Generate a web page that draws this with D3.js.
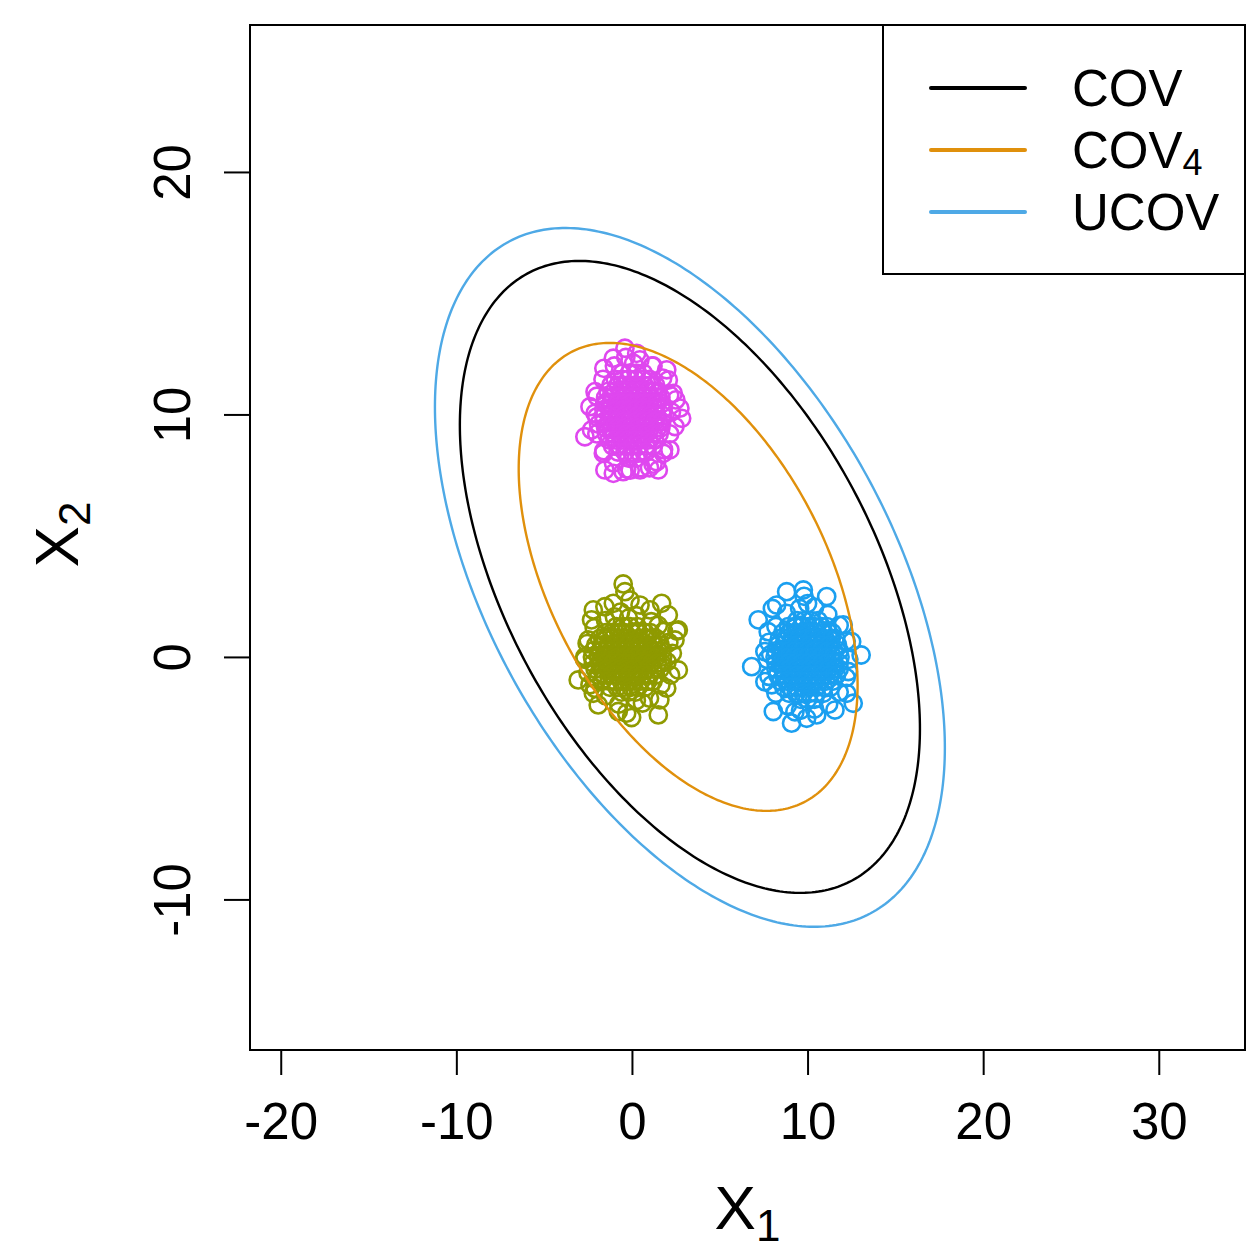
<!DOCTYPE html>
<html lang="en">
<head>
<meta charset="utf-8" />
<script src="https://d3js.org/d3.v7.min.js" charset="utf-8"></script>
<style>
  body { margin: 0; background: #fff; }
  text { font-family: "Liberation Sans", Arial, Helvetica, sans-serif; fill: #000; }
</style>
</head>
<body>
<script>
// axis ticks
var xTicks = [-20, -10, 0, 10, 20, 30];
var yTicks = [-10, 0, 10, 20];

// cluster colours: around (0,0), (0,10), (10,0)
var clusterColors = ["#8f9a00", "#df47ef", "#1a9ff0"];

// scattered points at the edge of each cluster, [x1, x2]
var greenOuter = [[-0.5,3.01],[-0.4,2.69],[1.69,2.21],[-0.11,2.35],[-2.2,1.94],[-1.54,2.07],[-1.06,2.21],
  [2.07,1.73],[2.64,1.11],[2.45,0.7],[2.64,-0.54],[-3.06,-0.95],[-2.39,-1.15],[-2.2,-1.5],[-1.92,-1.98],
  [1.5,-2.39],[-0.3,-2.32],[-0.02,-2.5],[-0.78,-2.25],[1.59,-1.77],[1.98,-1.29],[-2.49,0.7],[-2.68,0.01],
  [-2.3,1.53],[1.03,1.94],[0.46,2.14],[2.56,1.07]];
var magentaOuter = [[-0.4,12.73],[0.27,12.52],[-1.06,12.32],[1.98,11.84],[2.07,11.42],[-2.1,10.94],[2.35,10.87],
  [2.73,10.26],[2.83,9.84],[-2.39,10.32],[-2.68,9.08],[-2.3,9.36],[2.45,9.5],[2.16,8.54],[1.79,8.4],
  [-1.63,8.4],[-1.54,7.71],[-1.06,7.57],[-0.5,7.64],[0.46,7.71],[1.5,7.71],[1.41,8.05],[-1.6,11.9],
  [1.2,12.0],[-2.0,9.9],[2.5,10.6],[-0.1,7.7],[1.0,7.8]];
var blueOuter = [[8.81,2.69],[9.76,2.76],[9.8,2.5],[11.09,2.49],[8.24,2.14],[7.19,1.53],[12.03,1.32],[13.05,0.08],
  [6.82,-0.4],[7.57,-1.02],[7.96,-1.15],[12.6,-1.91],[8.05,-2.25],[9.09,-2.73],[9.95,-2.53],[11.56,-2.19],
  [12.23,-1.5],[12.32,-0.6],[12.51,0.63],[7.57,0.22],[7.76,1.04],[10.52,-2.39],[9.28,-2.26],[8.0,2.0]];

// rings of overlapping points just outside each core
var greenMid = [[2.3,0.15],[2.1,0.6],[1.8,1.05],[1.1,1.45],[0.25,1.7],[-0.65,1.85],[-1.5,1.5],[-2.15,1.2],
  [-2.55,0.55],[-2.7,-0.1],[-2.5,-0.65],[-2.1,-1.3],[-1.5,-1.6],[-0.75,-1.95],[0.25,-1.8],[1.0,-1.7],
  [1.65,-1.15],[2.2,-0.75],[1.5,1.3],[-1.0,1.65],[-2.0,-0.95],[0.6,-1.9],[-0.2,1.6],[2.0,-0.2]];
var magentaMid = [[2.25,10.1],[2.15,10.8],[1.75,11.5],[1.15,12.0],[0.45,12.25],[-0.35,12.35],[-1.0,12.0],
  [-1.65,11.45],[-2.0,10.75],[-2.1,10.05],[-2.0,9.2],[-1.6,8.5],[-1.05,8.0],[-0.3,7.75],[0.5,7.8],
  [1.2,7.95],[1.8,8.55],[2.15,9.2],[0.1,12.1],[-1.9,9.6]];
var blueMid = [[12.35,-0.1],[12.2,0.65],[11.8,1.3],[11.15,1.75],[10.4,2.05],[9.55,2.0],[8.8,1.8],[8.2,1.25],
  [7.8,0.6],[7.7,-0.1],[7.8,-0.8],[8.2,-1.5],[8.85,-2.0],[9.6,-2.2],[10.4,-2.15],[11.2,-1.95],
  [11.8,-1.45],[12.2,-0.85],[10.0,2.2],[7.9,0.1]];

// dense cores, rows of [x2, [x1 values]]
var greenCore = [
  [1.25, [-0.9,-0.5,-0.1,0.3]],
  [1.0, [-1.5,-1.15,-0.75,-0.4,0.0,0.35,0.75,1.05]],
  [0.75, [-1.85,-1.5,-1.1,-0.75,-0.35,0.0,0.4,0.75,1.1,1.4]],
  [0.5, [-2.05,-1.7,-1.35,-0.95,-0.6,-0.2,0.15,0.5,0.9,1.25,1.6]],
  [0.25, [-2.2,-1.8,-1.45,-1.1,-0.7,-0.35,0.05,0.4,0.75,1.15,1.5,1.7]],
  [0.0, [-2.25,-1.9,-1.5,-1.15,-0.8,-0.4,-0.05,0.3,0.7,1.05,1.4,1.75]],
  [-0.25, [-2.2,-1.85,-1.45,-1.1,-0.75,-0.35,0.0,0.4,0.75,1.1,1.45,1.7]],
  [-0.5, [-2.1,-1.75,-1.4,-1.0,-0.65,-0.3,0.1,0.45,0.85,1.2,1.6]],
  [-0.75, [-1.95,-1.6,-1.2,-0.85,-0.5,-0.1,0.25,0.6,1.0,1.35]],
  [-1.0, [-1.7,-1.3,-0.95,-0.6,-0.2,0.15,0.5,0.9,1.2]],
  [-1.25, [-1.25,-0.85,-0.45,-0.05,0.35,0.75]],
  [-1.45, [-0.6,-0.2,0.2]]
];
var magentaCore = [
  [11.7, [-0.55,-0.15,0.25,0.65]],
  [11.45, [-0.95,-0.55,-0.2,0.2,0.6,1.0]],
  [11.2, [-1.2,-0.8,-0.45,-0.05,0.3,0.7,1.05,1.35]],
  [10.95, [-1.35,-1.0,-0.6,-0.25,0.15,0.5,0.9,1.25,1.5]],
  [10.7, [-1.5,-1.1,-0.75,-0.4,0.0,0.35,0.7,1.1,1.45,1.65]],
  [10.45, [-1.55,-1.2,-0.8,-0.45,-0.1,0.3,0.65,1.0,1.4,1.7]],
  [10.2, [-1.6,-1.25,-0.85,-0.5,-0.15,0.25,0.6,0.95,1.35,1.75]],
  [9.95, [-1.6,-1.2,-0.85,-0.45,-0.1,0.3,0.65,1.05,1.4,1.75]],
  [9.7, [-1.6,-1.25,-0.9,-0.5,-0.15,0.2,0.6,0.95,1.3,1.7]],
  [9.45, [-1.5,-1.15,-0.8,-0.4,-0.05,0.35,0.7,1.05,1.45,1.65]],
  [9.2, [-1.45,-1.05,-0.7,-0.3,0.05,0.45,0.8,1.2,1.55]],
  [8.95, [-1.3,-0.95,-0.55,-0.2,0.2,0.55,0.95,1.3]],
  [8.7, [-1.1,-0.7,-0.35,0.05,0.4,0.8,1.2]],
  [8.45, [-0.8,-0.4,0.0,0.4,0.8]],
  [8.2, [-0.2,0.25]]
];
var blueCore = [
  [1.5, [9.4,9.8,10.2,10.6]],
  [1.25, [8.9,9.3,9.65,10.05,10.4,10.8,11.1]],
  [1.0, [8.6,8.95,9.35,9.7,10.1,10.45,10.85,11.2,11.4]],
  [0.75, [8.4,8.75,9.15,9.5,9.9,10.25,10.65,11.0,11.35,11.6]],
  [0.5, [8.3,8.65,9.0,9.4,9.75,10.15,10.5,10.85,11.25,11.7]],
  [0.25, [8.2,8.55,8.95,9.3,9.7,10.05,10.4,10.8,11.15,11.5,11.8]],
  [0.0, [8.15,8.5,8.9,9.25,9.6,10.0,10.35,10.75,11.1,11.45,11.85]],
  [-0.25, [8.2,8.55,8.9,9.3,9.65,10.05,10.4,10.8,11.15,11.5,11.8]],
  [-0.5, [8.2,8.6,8.95,9.35,9.7,10.1,10.45,10.85,11.2,11.55,11.8]],
  [-0.75, [8.3,8.65,9.05,9.4,9.8,10.15,10.5,10.9,11.25,11.65]],
  [-1.0, [8.45,8.8,9.2,9.55,9.95,10.3,10.7,11.05,11.45]],
  [-1.25, [8.65,9.0,9.4,9.75,10.15,10.5,10.9,11.3]],
  [-1.5, [8.95,9.35,9.75,10.1,10.5,10.9]],
  [-1.75, [9.6,10.0,10.4]]
];

// covariance ellipses: centre and scaled matrix [s11, s12, s22]
var ellipseNames = ["COV", "COV4", "UCOV"];
var ellipseColors = ["#000000", "#e0900c", "#4ea9e6"];
var ellipseCenters = [[3.3, 3.3], [3.2, 3.3], [3.3, 3.28]];
var ellipseShapes = [[171.6, -82, 169.8], [93.1, -43, 93.1], [210.8, -102, 207.6]];

var width = 1250, height = 1250;
var pLeft = 250, pRight = 1245, pTop = 25, pBottom = 1050;

var svg = d3.select("body").append("svg")
    .attr("width", width)
    .attr("height", height);

var x = d3.scaleLinear().domain([-21.75, 34.91]).range([pLeft, pRight]);
var y = d3.scaleLinear().domain([-16.21, 26.06]).range([pBottom, pTop]);

function expand(rows) {
    return rows.flatMap(function (r) { return r[1].map(function (v) { return [v, r[0]]; }); });
}

var clusters = [
    expand(greenCore).concat(greenMid, greenOuter),
    expand(magentaCore).concat(magentaMid, magentaOuter),
    expand(blueCore).concat(blueMid, blueOuter)
];

clusters.forEach(function (pts, i) {
    svg.append("g").selectAll("circle")
        .data(pts)
        .join("circle")
        .attr("cx", function (d) { return x(d[0]); })
        .attr("cy", function (d) { return y(d[1]); })
        .attr("r", 8.6)
        .attr("fill", "none")
        .attr("stroke", clusterColors[i])
        .attr("stroke-width", 2.6);
});

// ellipses
var line = d3.line()
    .x(function (d) { return x(d[0]); })
    .y(function (d) { return y(d[1]); });

ellipseShapes.forEach(function (s, i) {
    var a = Math.sqrt(s[0]), b = s[1] / a, c = Math.sqrt(s[2] - b * b);
    var cx = ellipseCenters[i][0], cy = ellipseCenters[i][1];
    var pts = d3.range(0, 361).map(function (deg) {
        var t = deg * Math.PI / 180;
        return [cx + a * Math.cos(t), cy + b * Math.cos(t) + c * Math.sin(t)];
    });
    svg.append("path")
        .attr("d", line(pts))
        .attr("fill", "none")
        .attr("stroke", ellipseColors[i])
        .attr("stroke-width", 2.4);
});

// box
svg.append("rect")
    .attr("x", pLeft).attr("y", pTop)
    .attr("width", pRight - pLeft).attr("height", pBottom - pTop)
    .attr("fill", "none").attr("stroke", "#000").attr("stroke-width", 2);

// axes
var fmt = function (d) { return String(d); };

var xAxis = svg.append("g")
    .attr("transform", "translate(0," + pBottom + ")")
    .call(d3.axisBottom(x).tickValues(xTicks).tickSize(25).tickPadding(28).tickFormat(fmt));
xAxis.select(".domain").remove();
xAxis.selectAll("line").attr("stroke-width", 2);
xAxis.selectAll("text").style("font-size", "51px").style("font-family", "Liberation Sans, Arial, sans-serif");

var yAxis = svg.append("g")
    .attr("transform", "translate(" + pLeft + ",0)")
    .call(d3.axisLeft(y).tickValues(yTicks).tickSize(26).tickFormat(fmt));
yAxis.select(".domain").remove();
yAxis.selectAll("line").attr("stroke-width", 2);
yAxis.selectAll("text")
    .attr("x", 0).attr("dy", null)
    .attr("text-anchor", "middle")
    .attr("transform", "translate(-60,0) rotate(-90)")
    .style("font-size", "51px").style("font-family", "Liberation Sans, Arial, sans-serif");

// axis titles
var xt = svg.append("text")
    .attr("x", (pLeft + pRight) / 2).attr("y", 1229)
    .attr("text-anchor", "middle")
    .style("font-size", "62px");
xt.append("tspan").text("X");
xt.append("tspan").attr("dy", 12).style("font-size", "44px").text("1");

var yt = svg.append("text")
    .attr("transform", "translate(78," + ((pTop + pBottom) / 2 - 3) + ") rotate(-90)")
    .attr("text-anchor", "middle")
    .style("font-size", "62px");
yt.append("tspan").text("X");
yt.append("tspan").attr("dy", 12).style("font-size", "44px").text("2");

// legend
var lg = svg.append("g");
lg.append("rect")
    .attr("x", 883).attr("y", pTop)
    .attr("width", pRight - 883).attr("height", 274 - pTop)
    .attr("fill", "#fff").attr("stroke", "#000").attr("stroke-width", 2);
var legendY = [88, 150, 212];
ellipseNames.forEach(function (n, i) {
    lg.append("line")
        .attr("x1", 931).attr("x2", 1025)
        .attr("y1", legendY[i]).attr("y2", legendY[i])
        .attr("stroke", ellipseColors[i])
        .attr("stroke-width", 4)
        .attr("stroke-linecap", "round");
    var t = lg.append("text")
        .attr("x", 1072).attr("y", legendY[i] + 18)
        .style("font-size", "51px");
    if (n === "COV4") {
        t.append("tspan").text("COV");
        t.append("tspan").attr("dy", 7).style("font-size", "36px").text("4");
    } else {
        t.text(n);
    }
});
</script>
</body>
</html>
